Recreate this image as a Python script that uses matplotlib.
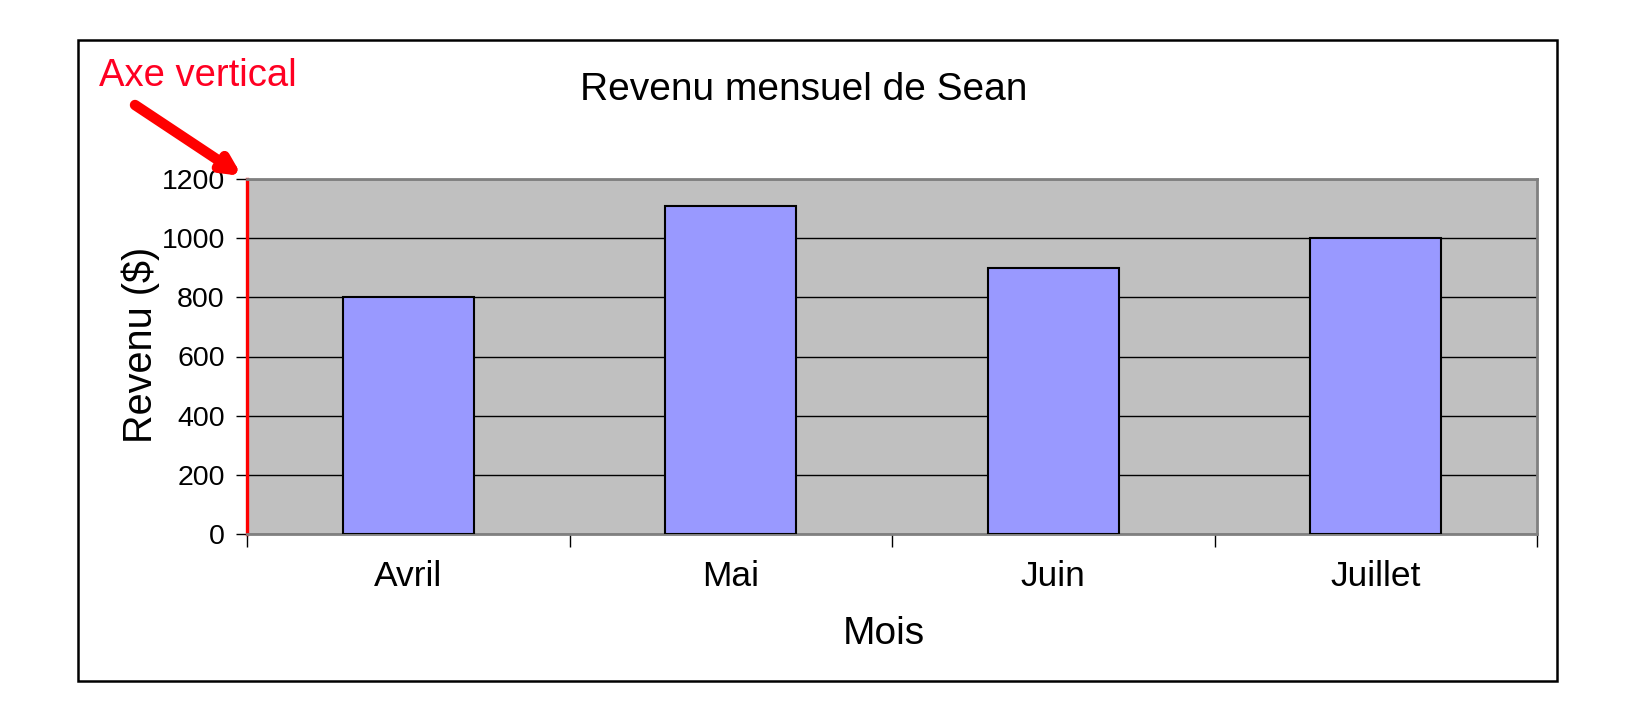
import matplotlib
matplotlib.use("Agg")
import matplotlib.pyplot as plt
from matplotlib.patches import Rectangle

plt.rcParams['font.family'] = ['Liberation Sans', 'DejaVu Sans']

months = ["Avril", "Mai", "Juin", "Juillet"]
revenue = [800, 1110, 900, 1000]
y_ticks = [0, 200, 400, 600, 800, 1000, 1200]

W, H = 1638, 722
fig = plt.figure(figsize=(W / 100, H / 100), dpi=100)

# outer frame
fig.patches.append(Rectangle((78 / W, 1 - 681 / H), (1557 - 78) / W, (681 - 40) / H,
                             transform=fig.transFigure, fill=False, edgecolor='black',
                             linewidth=1.8, zorder=0))

L, R, T, B = 247, 1537, 179, 534
ax = fig.add_axes([L / W, 1 - B / H, (R - L) / W, (B - T) / H])
ax.set_facecolor('#C0C0C0')
x = list(range(len(months)))
ax.bar(x, revenue, width=0.405, color='#9999FF', edgecolor='black', linewidth=1.5, zorder=3)

ax.set_xlim(-0.5, len(months) - 0.5)
ax.set_ylim(0, 1200)
ax.set_yticks(y_ticks)
ax.set_yticklabels([str(v) for v in y_ticks], fontsize=20.5)
ax.yaxis.grid(True, color='black', linewidth=1.0, zorder=1)
ax.set_axisbelow(True)
ax.tick_params(axis='y', length=8, width=1, direction='out', pad=8, colors='black')

ax.set_xticks(x)
ax.set_xticklabels(months, fontsize=25.5)
ax.tick_params(axis='x', which='major', length=0, pad=19)
ax.set_xticks([i - 0.5 for i in range(len(months) + 1)], minor=True)
ax.tick_params(axis='x', which='minor', length=9, width=1, direction='out')

for s in ['top', 'right', 'bottom']:
    ax.spines[s].set_color('#808080')
    ax.spines[s].set_linewidth(2)
ax.spines['left'].set_color('red')
ax.spines['left'].set_linewidth(2.4)

ax.set_xlabel("Mois", fontsize=28)
ax.xaxis.label.set_va('center')
ax.xaxis.set_label_coords(0.494, (B - 634) / (B - T))
ax.set_ylabel("Revenu ($)", fontsize=28.5)
ax.yaxis.label.set_va('center')
ax.yaxis.set_label_coords((141 - L) / (R - L), (B - 345) / (B - T))

fig.text(804 / W, 1 - 90 / H, "Revenu mensuel de Sean", fontsize=28,
         ha='center', va='center', color='black')

fig.text(99 / W, 1 - 76 / H, "Axe vertical", fontsize=27.5, color='#FF0022',
         ha='left', va='center')
ax.annotate("", xy=(242 / W, 1 - 176 / H), xycoords='figure fraction',
            xytext=(135 / W, 1 - 105 / H), textcoords='figure fraction',
            arrowprops=dict(arrowstyle='-|>,head_length=1.0,head_width=0.5',
                            color='red', lw=7.5, shrinkA=0, shrinkB=0),
            annotation_clip=False)

fig.savefig("out.png", dpi=100)
